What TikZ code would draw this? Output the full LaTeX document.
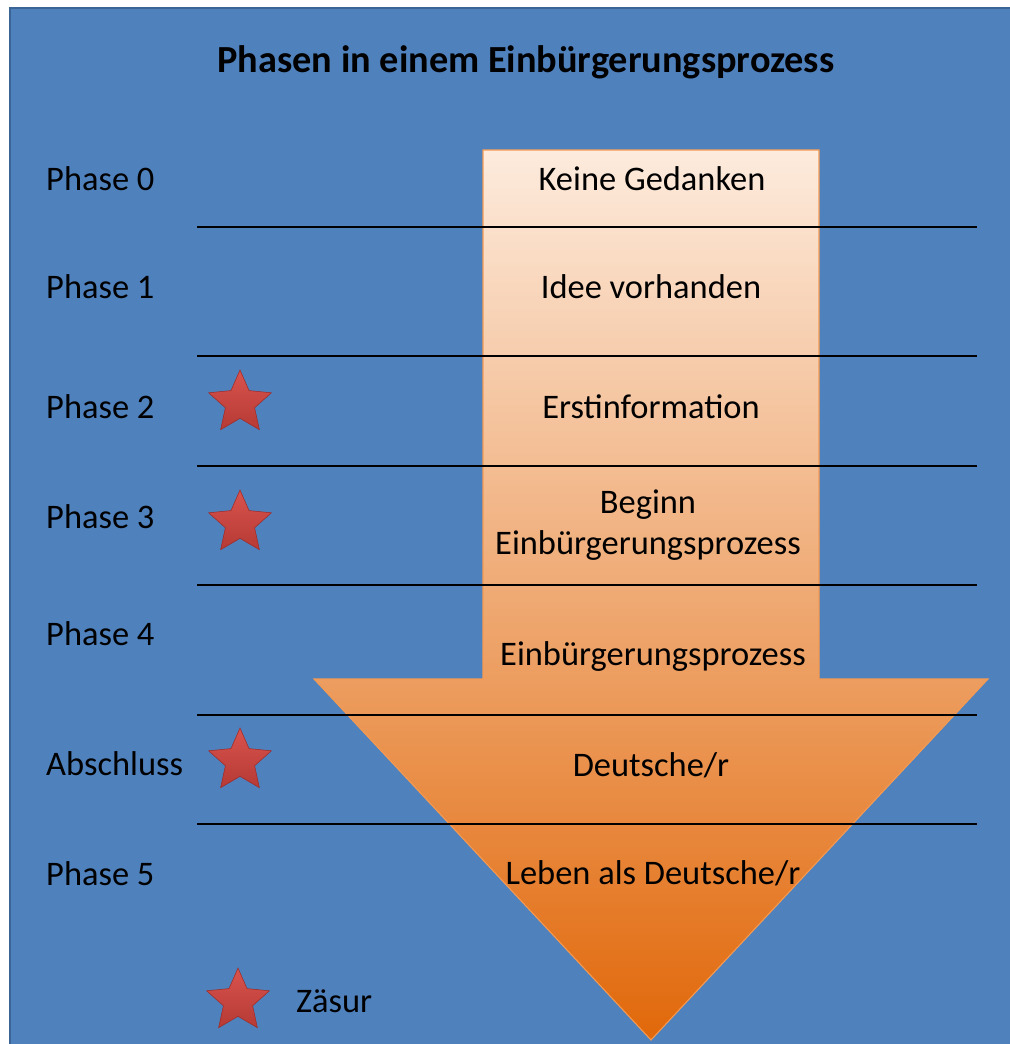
\documentclass[tikz,border=0pt]{standalone}
\usepackage{fontspec}
\setmainfont{Carlito}
\usetikzlibrary{shapes.geometric,positioning}
\definecolor{bgblue}{HTML}{4F81BD}
\definecolor{bgedge}{HTML}{3A6596}
\definecolor{arrtop}{HTML}{FDEBDD}
\definecolor{arrbot}{HTML}{E1680A}
\definecolor{arredge}{HTML}{F59A52}
\definecolor{starred}{HTML}{D6443E}
\definecolor{stardark}{HTML}{9E2A26}

\begin{document}
\begin{tikzpicture}[x=0.02cm,y=-0.02cm,
  lbl/.style={anchor=west, font=\fontsize{19.6}{23}\selectfont},
  txt/.style={align=center, font=\fontsize{19.6}{23.5}\selectfont},
  zstar/.style={star, star points=5, star point ratio=2.15, minimum size=1.32cm,
    inner sep=0pt, top color=starred!92!white, bottom color=starred!85!black,
    draw=stardark, line width=0.3pt},
  sep/.style={line width=0.8pt}]

  \useasboundingbox (0,0) rectangle (1010,1044);
  \fill[bgblue, draw=bgedge, line width=1.5pt] (10,8) rectangle (1030,1060);

  \node[font=\bfseries\fontsize{21.8}{26}\selectfont] (title) at (526,62)
    {Phasen in einem Einbürgerungsprozess};

  % the arrow
  \draw[top color=arrtop, bottom color=arrbot, draw=arredge, line width=0.6pt]
    (483,150) -- (819,150) -- (819,679) -- (988,679) -- (651,1040)
    -- (314,679) -- (483,679) -- cycle;

  % separators
  \foreach \y in {227,356,466,585,715,824}
    \draw[sep] (197,\y) -- (977,\y);

  % phase labels
  \node[lbl] (p0) at (40,179) {Phase 0};
  \node[lbl] (p1) at (40,287) {Phase 1};
  \node[lbl] (p2) at (40,407) {Phase 2};
  \node[lbl] (p3) at (40,517) {Phase 3};
  \node[lbl] (p4) at (40,634) {Phase 4};
  \node[lbl] (ab) at (40,764) {Abschluss};
  \node[lbl] (p5) at (40,874) {Phase 5};

  % texts in the arrow
  \node[txt] (t0) at (652,179) {Keine Gedanken};
  \node[txt] (t1) at (651,287) {Idee vorhanden};
  \node[txt] (t2) at (651,407) {Erstinformation};
  \node[txt] (t3) at (648,525) {Beginn\\Einbürgerungsprozess};
  \node[txt] (t4) at (653,656) {Einbürgerungsprozess};
  \node[txt] (t5) at (651,765) {Deutsche/r};
  \node[txt] (t6) at (653,873) {Leben als Deutsche/r};

  % caesura stars
  \node[zstar] (s2) at (240,403) {};
  \node[zstar] (s3) at (240,523) {};
  \node[zstar] (sa) at (240,761) {};
  \node[zstar] (sz) at (238,1001) {};
  \node[lbl, right=18pt of sz] (zs) {Zäsur};
\end{tikzpicture}
\end{document}
